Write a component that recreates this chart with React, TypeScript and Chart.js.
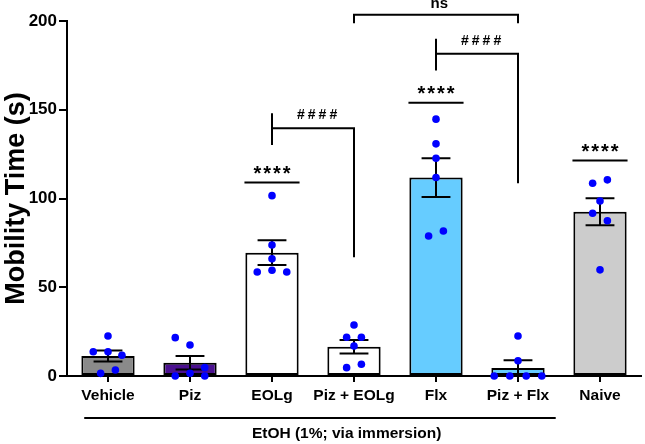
import { useEffect, useRef } from 'react';
import { Chart, registerables } from 'chart.js';

Chart.register(...registerables);

const FONT = '"Liberation Sans", Arial, Helvetica, sans-serif';

const categories = ['Vehicle', 'Piz', 'EOLg', 'Piz + EOLg', 'Flx', 'Piz + Flx', 'Naive'];
const meanValues = [11.2, 7.5, 69.5, 16.5, 111.8, 4.5, 92.6];
const semValues = [3.1, 3.8, 7.0, 3.8, 10.9, 4.4, 7.6];
const barColors = ['#8a8a8a', '#4b1090', '#ffffff', '#ffffff', '#66ccff', '#66ccff', '#cccccc'];

const pointValues = [
  [22.5, 13.7, 13.7, 11.7, 1.5, 3.4],
  [21.6, 17.5, 4.7, 0, 1.5, 0],
  [101.6, 73.8, 66, 58.6, 59.6, 58.6],
  [28.7, 21.8, 21.8, 16.9, 4.7, 6.6],
  [144.7, 130.8, 122.7, 111.8, 78.9, 81.7],
  [22.5, 8.6, 0, 0, 0, 0],
  [108.6, 110.5, 98.6, 91.7, 87.5, 59.8],
];
const pointOffsets = [
  [0, -0.18, 0, 0.17, -0.09, 0.09],
  [-0.18, 0, 0.18, -0.18, 0, 0.18],
  [0, 0, 0, -0.18, 0, 0.18],
  [0, -0.09, 0.09, 0, -0.09, 0.09],
  [0, 0, 0, 0, -0.09, 0.09],
  [0, 0, -0.29, -0.1, 0.1, 0.29],
  [-0.09, 0.09, 0, -0.09, 0.09, 0],
];

const yTickStep = 50;
const yMin = 0;
const yMax = 200;

// significance: "****" vs vehicle
const starGroups = [2, 4, 6];
const starLevels = [109, 154, 121.4];
const starLabel = '****';

// "####" brackets
const hashFrom = [2, 4];
const hashTo = [3, 5];
const hashTickTop = [148, 190];
const hashTickBottom = [130.2, 172.1];
const hashLevel = [139.6, 181.5];
const hashDrop = [66.9, 108.6];
const hashLabel = '####';

// "ns" bracket
const nsFrom = 3;
const nsTo = 5;
const nsLevel = 203.5;
const nsEnd = 198.8;
const nsLabel = 'ns';

// group label under the axis
const groupFrom = -0.29;
const groupTo = 5.46;
const groupTextAt = 2.91;
const groupLabel = 'EtOH (1%; via immersion)';

export default function App() {
  const ref = useRef<HTMLCanvasElement>(null);

  useEffect(() => {
    document.body.style.margin = '0';
    const scatterData = pointValues.flatMap((vals, i) =>
      vals.map((v, j) => ({ x: i + pointOffsets[i][j], y: v }))
    );

    const annot = {
      id: 'annot',
      afterDatasetDraw(chart: any, args: any) {
        if (args.index !== 0) return;
        const ctx = chart.ctx;
        const x = chart.scales.x;
        const y = chart.scales.y;
        const cw = x.getPixelForValue(1) - x.getPixelForValue(0);
        const cap = cw * 0.176;
        ctx.save();
        ctx.strokeStyle = '#000';
        ctx.lineWidth = 2;
        meanValues.forEach((m, i) => {
          const xc = x.getPixelForValue(i);
          const yt = y.getPixelForValue(m + semValues[i]);
          const yb = y.getPixelForValue(Math.max(0, m - semValues[i]));
          ctx.beginPath();
          ctx.moveTo(xc, yt);
          ctx.lineTo(xc, yb);
          ctx.moveTo(xc - cap, yt);
          ctx.lineTo(xc + cap, yt);
          ctx.moveTo(xc - cap, yb);
          ctx.lineTo(xc + cap, yb);
          ctx.stroke();
        });
        ctx.restore();
      },
      afterDraw(chart: any) {
        const ctx = chart.ctx;
        const x = chart.scales.x;
        const y = chart.scales.y;
        const cw = x.getPixelForValue(1) - x.getPixelForValue(0);
        const px = (v: number) => x.getPixelForValue(0) + v * cw;
        ctx.save();
        ctx.strokeStyle = '#000';
        ctx.fillStyle = '#000';
        ctx.lineWidth = 2;
        ctx.textAlign = 'center';
        ctx.textBaseline = 'alphabetic';

        // stars
        starGroups.forEach((g, i) => {
          const ly = y.getPixelForValue(starLevels[i]);
          ctx.beginPath();
          ctx.moveTo(px(g - 0.336), ly);
          ctx.lineTo(px(g + 0.336), ly);
          ctx.stroke();
          ctx.font = `bold 20px ${FONT}`;
          (ctx as any).letterSpacing = '2px';
          ctx.fillText(starLabel, px(g) + 1, ly - 3);
        });

        // hash brackets
        hashFrom.forEach((f, i) => {
          const t = hashTo[i];
          const lv = y.getPixelForValue(hashLevel[i]);
          ctx.beginPath();
          ctx.moveTo(px(f), y.getPixelForValue(hashTickTop[i]));
          ctx.lineTo(px(f), y.getPixelForValue(hashTickBottom[i]));
          ctx.moveTo(px(f), lv);
          ctx.lineTo(px(t), lv);
          ctx.lineTo(px(t), y.getPixelForValue(hashDrop[i]));
          ctx.stroke();
          ctx.font = `bold 14px ${FONT}`;
          (ctx as any).letterSpacing = '3px';
          ctx.fillText(hashLabel, px((f + t) / 2 + 0.05) + 1.5, lv - 9);
        });

        // ns bracket
        const nl = y.getPixelForValue(nsLevel);
        const ne = y.getPixelForValue(nsEnd);
        ctx.beginPath();
        ctx.moveTo(px(nsFrom), ne);
        ctx.lineTo(px(nsFrom), nl);
        ctx.lineTo(px(nsTo), nl);
        ctx.lineTo(px(nsTo), ne);
        ctx.stroke();
        (ctx as any).letterSpacing = '0px';
        ctx.font = `bold 15px ${FONT}`;
        ctx.fillText(nsLabel, px((nsFrom + nsTo) / 2 + 0.04), nl - 7);

        // group line and label
        const by = chart.chartArea.bottom + 42;
        ctx.beginPath();
        ctx.moveTo(px(groupFrom), by);
        ctx.lineTo(px(groupTo), by);
        ctx.stroke();
        ctx.font = `bold 15.5px ${FONT}`;
        ctx.fillText(groupLabel, px(groupTextAt), by + 20);
        ctx.restore();
      },
    };

    const chart = new Chart(ref.current as HTMLCanvasElement, {
      type: 'bar',
      data: {
        labels: categories,
        datasets: [
          {
            type: 'bar',
            data: meanValues,
            backgroundColor: barColors,
            borderColor: '#000',
            borderWidth: 2,
            borderSkipped: false,
            barPercentage: 0.65,
            categoryPercentage: 1,
            grouped: false,
            order: 2,
            xAxisID: 'x',
            yAxisID: 'y',
          } as any,
          {
            type: 'scatter',
            data: scatterData,
            xAxisID: 'xp',
            yAxisID: 'y',
            pointRadius: 3.8,
            pointBackgroundColor: '#0000ff',
            pointBorderWidth: 0,
            backgroundColor: '#0000ff',
            order: 1,
            clip: false,
          } as any,
        ],
      },
      options: {
        responsive: false,
        animation: false,
        layout: { padding: { left: 0, right: 1, top: 21, bottom: 0 } },
        plugins: { legend: { display: false }, tooltip: { enabled: false } },
        scales: {
          x: {
            type: 'category',
            offset: true,
            grid: {
              display: true,
              drawOnChartArea: false,
              offset: false,
              color: '#000',
              lineWidth: 2,
              tickLength: 6,
            },
            border: { color: '#000', width: 2 },
            ticks: {
              color: '#000',
              font: { family: FONT, size: 15.5, weight: 'bold' },
              padding: 4,
              maxRotation: 0,
              autoSkip: false,
            },
            afterFit: (s: any) => {
              s.height = 68;
            },
          },
          xp: {
            type: 'linear',
            display: false,
            offset: false,
            min: -0.5,
            max: 6.5,
            grid: { offset: false },
          },
          y: {
            min: yMin,
            max: yMax,
            ticks: {
              stepSize: yTickStep,
              color: '#000',
              font: { family: FONT, size: 17, weight: 'bold' },
              padding: 2,
            },
            grid: {
              drawOnChartArea: false,
              color: '#000',
              lineWidth: 2,
              tickLength: 8,
            },
            border: { color: '#000', width: 2 },
            title: {
              display: true,
              text: 'Mobility Time (s)',
              color: '#000',
              font: { family: FONT, size: 27, weight: 'bold' },
              padding: 0,
            },
            afterFit: (s: any) => {
              s.width = 67;
            },
          },
        },
      } as any,
      plugins: [annot],
    });
    return () => chart.destroy();
  }, []);

  return (
    <div style={{ position: 'absolute', left: 0, top: 0, width: 645, height: 444 }}>
      <canvas ref={ref} width={645} height={444} style={{ display: 'block', width: 645, height: 444 }} />
    </div>
  );
}
